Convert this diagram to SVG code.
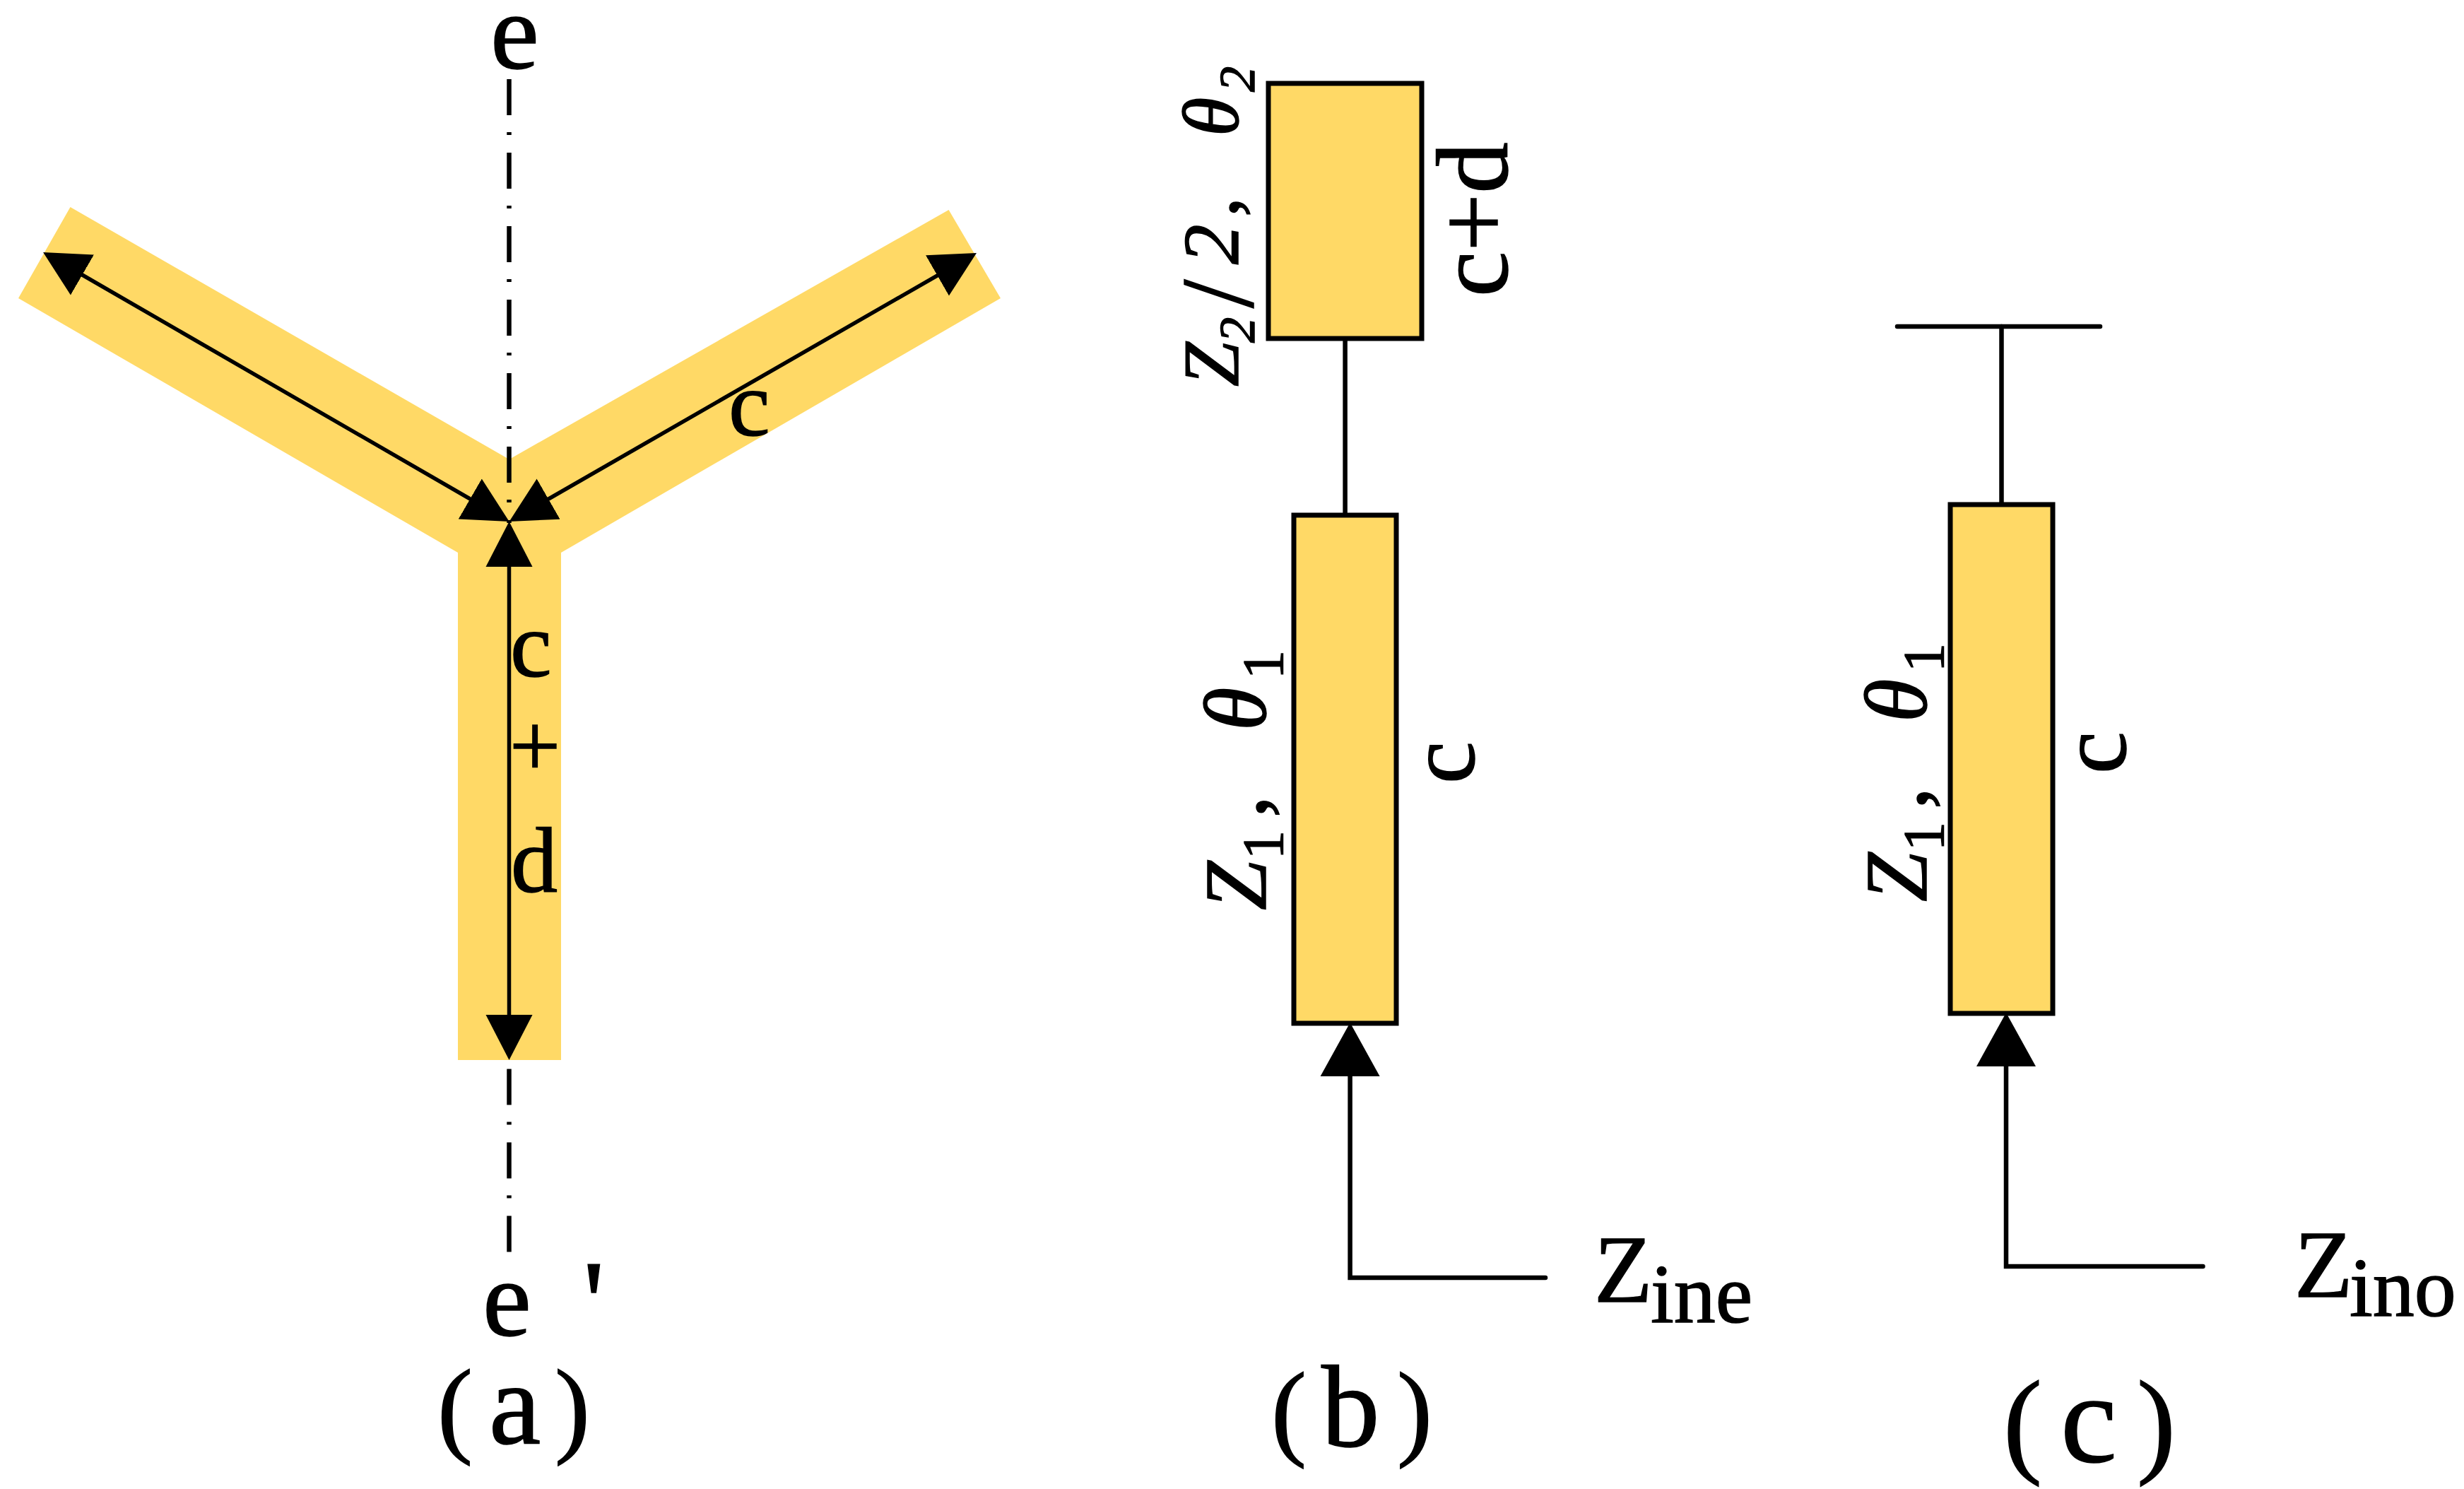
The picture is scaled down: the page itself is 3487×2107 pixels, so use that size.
<svg xmlns="http://www.w3.org/2000/svg" width="3487" height="2107" viewBox="0 0 3487 2107">
<style>
text{font-family:"Liberation Serif","Noto Sans CJK SC",serif;fill:#000;stroke:#000;stroke-width:1.5}
.it{font-style:italic}
.up{font-style:normal}
.fill{fill:#FFD966;stroke:none}
.box{fill:#FFD966;stroke:#000;stroke-width:7}
.ln{fill:none;stroke:#000;stroke-width:6.5;stroke-linecap:round}
.dim{fill:none;stroke:#000;stroke-width:5.5}
.axis{fill:none;stroke:#000;stroke-width:6.5;stroke-dasharray:51 24 4 25}
</style>
<defs>
<marker id="ah" markerUnits="userSpaceOnUse" markerWidth="70" markerHeight="70" viewBox="0 0 70 70" refX="54" refY="35" orient="auto-start-reverse"><path d="M0 2L64 35L0 68z"/></marker>
<marker id="ahL" markerUnits="userSpaceOnUse" markerWidth="90" markerHeight="90" viewBox="0 0 90 90" refX="66" refY="45" orient="auto"><path d="M0 3L76 45L0 87z"/></marker>
</defs>
<rect width="3487" height="2107" fill="#fff"/>
<g id="a-ystub"><polygon class="fill" points="99.5,293 720.6,650 1342.6,297 1416,422 794,782 794,1500 648,1500 648,782 26,422"/></g>
<g id="b-stub"><rect class="box" x="1795" y="118" width="217" height="361"/></g>
<g id="b-line"><rect class="box" x="1831" y="729" width="145" height="719"/></g>
<g id="c-line"><rect class="box" x="2760" y="714" width="145" height="720"/></g>
<g id="connectors">
<path class="axis" d="M720.5 112V740"/>
<path class="axis" d="M720.5 1512.6V1780"/>
<path class="dim" d="M69.7 362L712 733" marker-start="url(#ah)" marker-end="url(#ah)"/>
<path class="dim" d="M1373.3 363L729.3 733" marker-start="url(#ah)" marker-end="url(#ah)"/>
<path class="dim" d="M720.5 748V1490" marker-start="url(#ah)" marker-end="url(#ah)"/>
<path class="ln" d="M1903.6 482V726"/>
<path class="ln" d="M2187 1808H1910.6V1457" marker-end="url(#ahL)"/>
<path class="ln" d="M2685 462H2972"/>
<path class="ln" d="M2832.5 462V711"/>
<path class="ln" d="M3117.5 1792H2839V1443" marker-end="url(#ahL)"/>
</g>
<g id="labels-a">
<text x="694" y="96" font-size="155">e</text>
<text x="1031" y="616" font-size="132">c</text>
<text x="722" y="957" font-size="132">c</text>
<text x="721" y="1098" font-size="128">+</text>
<text x="723" y="1262" font-size="132">d</text>
<text x="683" y="1889" font-size="155">e</text>
<text x="825" y="1900" font-size="170">'</text>
<text y="2042" font-size="165"><tspan x="619" font-size="150">(</tspan><tspan x="692">a</tspan><tspan x="785" font-size="150">)</tspan></text>
</g>
<g id="labels-b">
<text transform="translate(1752,547) rotate(-90)" class="it" font-size="113"><tspan x="0">Z</tspan><tspan x="62" dy="23" font-size="72">2</tspan><tspan x="111" dy="-2" font-size="146" class="up">/</tspan><tspan x="173" dy="-21">2</tspan><tspan x="240" class="up">,</tspan><tspan x="354">θ</tspan><tspan x="417" dy="23" font-size="72">2</tspan></text>
<text transform="translate(2133,420) rotate(-90)" font-size="145">c+d</text>
<text transform="translate(1791,1288) rotate(-90)" class="it" font-size="125"><tspan x="0">Z</tspan><tspan x="72" dy="24" font-size="82" class="up">1</tspan><tspan x="131" dy="-24" class="up">,</tspan><tspan x="254">θ</tspan><tspan x="327" dy="24" font-size="82" class="up">1</tspan></text>
<text transform="translate(2086,1109) rotate(-90)" font-size="135">c</text>
<text y="1842" font-size="135"><tspan x="2256">Z</tspan><tspan x="2336" dy="29" font-size="118">ine</tspan></text>
<text y="2046" font-size="165"><tspan x="1799" font-size="150">(</tspan><tspan x="1870">b</tspan><tspan x="1977" font-size="150">)</tspan></text>
</g>
<g id="labels-c">
<text transform="translate(2726,1276) rotate(-90)" class="it" font-size="125"><tspan x="0">Z</tspan><tspan x="72" dy="24" font-size="82" class="up">1</tspan><tspan x="131" dy="-24" class="up">,</tspan><tspan x="254">θ</tspan><tspan x="325" dy="24" font-size="82" class="up">1</tspan></text>
<text transform="translate(3008,1095) rotate(-90)" font-size="135">c</text>
<text y="1835" font-size="135"><tspan x="3247">Z</tspan><tspan x="3325" dy="27" font-size="118">ino</tspan></text>
<text y="2068" font-size="180"><tspan x="2835" font-size="165">(</tspan><tspan x="2916">c</tspan><tspan x="3024" font-size="165">)</tspan></text>
</g>
</svg>
